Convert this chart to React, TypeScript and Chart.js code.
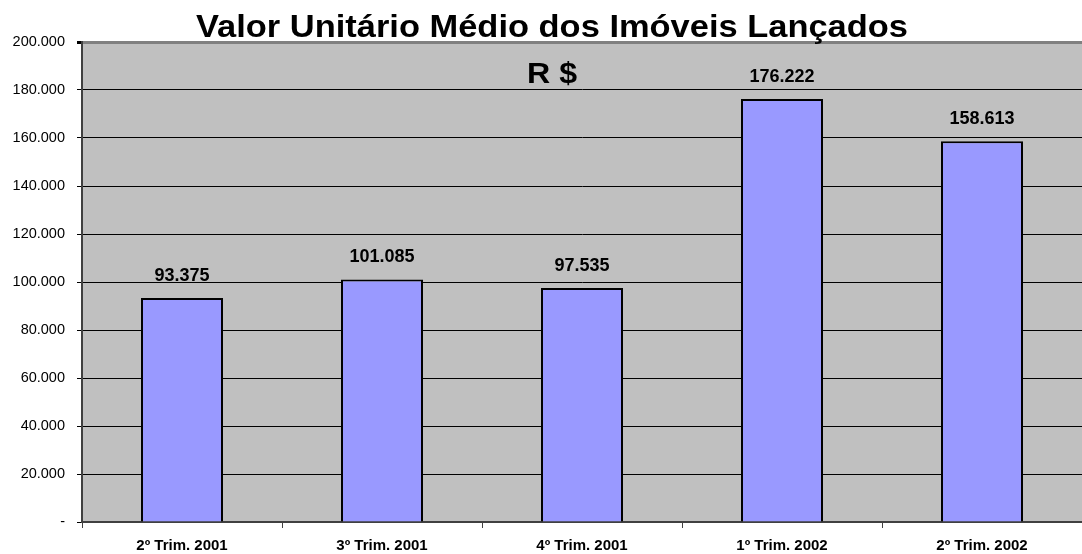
import React, { useEffect, useRef } from "react";
import { Chart, registerables } from "chart.js";

Chart.register(...registerables);

const categories = ["2º Trim. 2001", "3º Trim. 2001", "4º Trim. 2001", "1º Trim. 2002", "2º Trim. 2002"];
const values = [93375, 101085, 97535, 176222, 158613];
const yTicks = [0, 20000, 40000, 60000, 80000, 100000, 120000, 140000, 160000, 180000, 200000];
const titleText = "Valor Unitário Médio dos Imóveis Lançados";
const subtitleText = "R $";

const FONT = "'Liberation Sans', Arial, sans-serif";

function fmt(v: number): string {
  if (v === 0) return "-";
  const s = Math.round(v).toString();
  return s.replace(/\B(?=(\d{3})+(?!\d))/g, ".");
}

const bgPlugin = {
  id: "plotBg",
  beforeDraw(chart: any) {
    const { ctx, chartArea } = chart;
    ctx.save();
    ctx.fillStyle = "#C0C0C0";
    ctx.fillRect(chartArea.left, chartArea.top, chartArea.right - chartArea.left, chartArea.bottom - chartArea.top);
    ctx.restore();
  },
};

function stretchedText(ctx: any, text: string, cx: number, y: number, font: string, targetWidth: number) {
  ctx.save();
  ctx.font = font;
  const w = ctx.measureText(text).width;
  const sx = targetWidth / w;
  ctx.translate(cx, y);
  ctx.scale(sx, 1);
  ctx.fillText(text, 0, 0);
  ctx.restore();
}

const labelPlugin = {
  id: "labels",
  afterDatasetsDraw(chart: any) {
    const { ctx } = chart;
    const meta = chart.getDatasetMeta(0);
    ctx.save();
    ctx.font = `bold 18px ${FONT}`;
    ctx.fillStyle = "#000";
    ctx.textAlign = "center";
    ctx.textBaseline = "alphabetic";
    meta.data.forEach((bar: any, i: number) => {
      ctx.fillText(fmt(values[i]), bar.x, bar.y - 17);
    });
    ctx.restore();
  },
  afterDraw(chart: any) {
    const { ctx } = chart;
    ctx.save();
    ctx.fillStyle = "#000";
    ctx.textAlign = "center";
    ctx.textBaseline = "alphabetic";
    stretchedText(ctx, titleText, 552, 37, `bold 31px ${FONT}`, 712);
    stretchedText(ctx, subtitleText, 552, 83, `bold 30px ${FONT}`, 50);
    ctx.restore();
  },
};

export default function App() {
  const ref = useRef<HTMLCanvasElement | null>(null);
  useEffect(() => {
    if (!ref.current) return;
    const chart = new Chart(ref.current, {
      type: "bar",
      data: {
        labels: categories,
        datasets: [
          {
            data: values,
            backgroundColor: "#9999FF",
            borderColor: "#000000",
            borderWidth: 2,
            barPercentage: 0.41,
            categoryPercentage: 1,
          },
        ],
      },
      options: {
        responsive: false,
        animation: false,
        layout: { padding: { top: 42, right: 0, left: 0, bottom: 0 } },
        plugins: { legend: { display: false }, title: { display: false }, tooltip: { enabled: false } },
        scales: {
          x: {
            offset: true,
            grid: {
              display: true,
              drawOnChartArea: false,
              offset: true,
              tickLength: 6,
              color: "#404040",
              lineWidth: 1,
            },
            border: { display: true, color: "#404040", width: 2 },
            ticks: {
              color: "#000",
              font: { family: FONT, size: 15, weight: "bold" },
              padding: 9,
              maxRotation: 0,
              autoSkip: false,
            },
            afterFit(scale: any) {
              scale.height = 32;
            },
          },
          y: {
            min: 0,
            max: 200000,
            afterBuildTicks(scale: any) {
              scale.ticks = yTicks.map((v) => ({ value: v }));
            },
            grid: {
              color: (c: any) => (c.tick && c.tick.value === 200000 ? "#808080" : "#000000"),
              lineWidth: (c: any) => (c.tick && c.tick.value === 200000 ? 3 : 1),
              tickColor: "#000",
              tickLength: 5,
            },
            border: { display: true, color: "#404040", width: 2 },
            ticks: {
              color: "#000",
              font: { family: FONT, size: 14.5 },
              padding: 12,
              callback: (v: any) => fmt(Number(v)),
            },
            afterFit(scale: any) {
              scale.width = 82;
            },
          },
        },
      },
      plugins: [bgPlugin, labelPlugin],
    });
    return () => chart.destroy();
  }, []);
  return (
    <div style={{ position: "absolute", left: 0, top: 0, width: 1082, height: 554, background: "#fff" }}>
      <canvas ref={ref} width={1082} height={554} style={{ display: "block" }} />
    </div>
  );
}
